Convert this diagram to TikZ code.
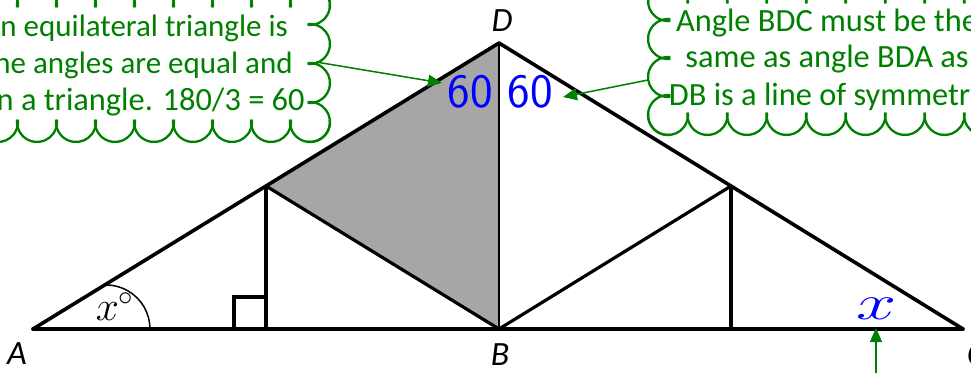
\documentclass[tikz,border=0pt]{standalone}
\usepackage{fontspec}
\usepackage{tikz}
\usetikzlibrary{arrows.meta}
\newfontfamily\notefont{Carlito}

\begin{document}
\begin{tikzpicture}[
  x=0.5pt,y=0.5pt,
  every node/.style={inner sep=0pt},
  edge/.style={line width=1.8pt,line cap=round,line join=round},
  inner/.style={line width=1.6pt},
  puff/.style={draw=green!50!black,line width=1.15pt},
  note/.style={font=\notefont\fontsize{16.2}{19}\selectfont,text=green!50!black},
  tight/.style={font=\notefont\fontsize{15.5}{19}\selectfont},
  vlabel/.style={font=\notefont\itshape\fontsize{17}{19}\selectfont},
  hand/.style={text=blue,font=\sffamily\fontsize{24}{24}\selectfont},
  pointer/.style={draw=green!50!black,line width=0.75pt,
    -{Triangle[length=7pt,width=6pt]}}
]
  \useasboundingbox (0,0) rectangle (971,372);
  \clip (0,0) rectangle (971,372);

  \coordinate (A) at (33,43);
  \coordinate (B) at (499,43);
  \coordinate (C) at (963,43);
  \coordinate (D) at (499,329);
  \coordinate (E) at (266,186);
  \coordinate (F) at (731,186);
  \coordinate (e0) at (266,43);
  \coordinate (f0) at (731,43);

  \fill[black!35] (E) -- (D) -- (B) -- cycle;
  \draw[edge] (A) -- (D) -- (C);
  \draw[edge] (A) -- (C);
  \draw[line width=1.2pt] (D) -- (B);
  \draw[inner] (E) -- (e0);
  \draw[inner] (E) -- (B);
  \draw[inner] (B) -- (F);
  \draw[inner] (F) -- (f0);
  \draw[inner] (e0) -- ++(-32,0) -- ++(0,32) -- ++(32,0);
  \draw[line width=0.75pt] (150,43) arc[start angle=0,end angle=93,radius=44];

  \node[vlabel] (labD) at (502,351) {D};
  \node[vlabel] (labA) at (17,18) {A};
  \node[vlabel] (labB) at (500,17) {B};
  \node[vlabel] (labC) at (976,17) {C};
  \node[font=\fontsize{22}{24}\selectfont] (angA) at (115,65) {$x^\circ$};

  \node[hand] (sixL) at (470,280) {60};
  \node[hand] (sixR) at (530,280) {60};
  \node[text=blue,font=\fontsize{30}{30}\selectfont] (xmark) at (877,63)
    {\scalebox{1.45}[1]{$x$}};

  % left note cloud
  \foreach \i in {0,...,8} {
    \draw[puff] (310-39*\i,250) ++(173:20) arc[start angle=173,end angle=367,radius=20];
    \draw[puff] (310-39*\i,367) ++(-7:20) arc[start angle=-7,end angle=187,radius=20];
  }
  \foreach \i in {0,...,3}
    \draw[puff] (310,250+39*\i) ++(-97:20) arc[start angle=-97,end angle=97,radius=20];

  \node[note,tight,anchor=base west] (noteL1) at (0,336) {n equilateral triangle is};
  \node[note,tight,anchor=base west] (noteL2) at (-6,299) {he angles are equal and};
  \node[note,anchor=base east] (noteL3) at (305,262) {n a triangle. 180/3 = 60};

  % right note cloud
  \foreach \i in {0,...,8} {
    \draw[puff] (668+39.5*\i,257) ++(173:20) arc[start angle=173,end angle=367,radius=20];
    \draw[puff] (668+39.5*\i,371) ++(-7:20) arc[start angle=-7,end angle=187,radius=20];
  }
  \foreach \i in {0,...,3}
    \draw[puff] (668,257+38*\i) ++(83:20) arc[start angle=83,end angle=277,radius=20];

  \node[note,anchor=base] (noteR1) at (827,341) {Angle BDC must be the};
  \node[note,anchor=base] (noteR2) at (827,305) {same as angle BDA as};
  \node[note,anchor=base] (noteR3) at (827,267) {DB is a line of symmetry};

  \coordinate (tailL) at (316,310);
  \coordinate (tipL) at (442,289);
  \coordinate (tailR) at (648,292);
  \coordinate (tipR) at (563,275);
  \coordinate (tailX) at (876,-5);
  \coordinate (tipX) at (876,44);
  \draw[pointer] (tailL) -- (tipL);
  \draw[pointer] (tailR) -- (tipR);
  \draw[pointer] (tailX) -- (tipX);
\end{tikzpicture}
\end{document}
